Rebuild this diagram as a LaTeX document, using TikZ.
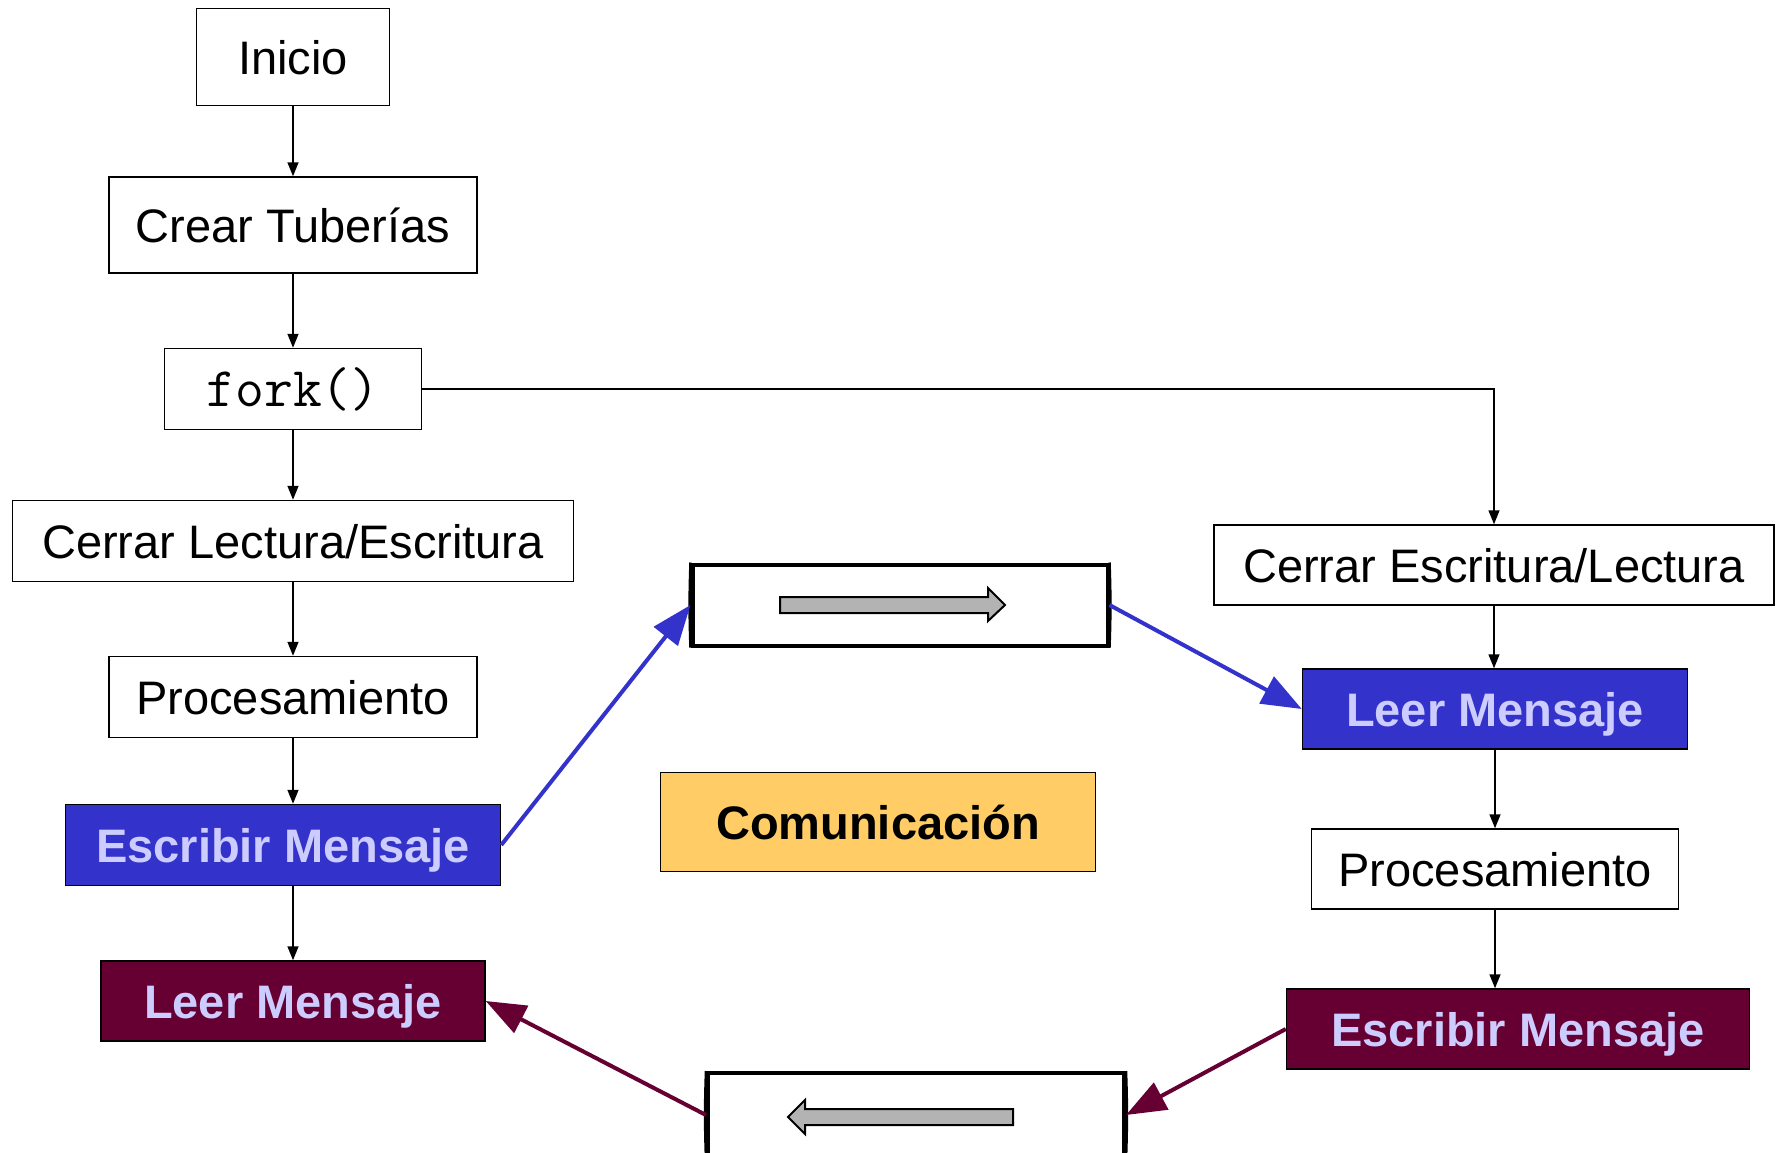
\documentclass[tikz,border=0pt]{standalone}
\usepackage{fontspec}
\setmainfont{Liberation Sans}
\usepackage{tikz}
\usetikzlibrary{arrows.meta}

\definecolor{pipeblue}{HTML}{3333CC}
\definecolor{pipered}{HTML}{660033}
\definecolor{lilac}{HTML}{CCCCFF}
\definecolor{commyellow}{HTML}{FFCC66}
\definecolor{arrowgray}{HTML}{B3B3B3}

\begin{document}
\begin{tikzpicture}[x=1pt, y=-1pt,
    every node/.style={inner sep=0pt, text height=34pt, text depth=0pt,
                       font=\fontsize{47}{56}\selectfont},
    stepbox/.style={draw, fill=white, line width=1.5pt},
    bluebox/.style={draw, fill=pipeblue, line width=1.5pt,
                    text=lilac, font=\fontsize{47}{56}\selectfont\bfseries},
    redbox/.style={draw, fill=pipered, line width=1.5pt,
                   text=lilac, font=\fontsize{47}{56}\selectfont\bfseries},
    pipebox/.style={draw, line width=4pt},
    flow/.style={-{Triangle[length=14pt,width=11pt]}, line width=1.5pt},
    bluemsg/.style={-{Triangle[length=40pt,width=30pt]}, line width=4pt, pipeblue},
    redmsg/.style={-{Triangle[length=40pt,width=30pt]}, line width=4pt, pipered}]

  \useasboundingbox (0,0) rectangle (1781,1152);

  % padre
  \node [stepbox, minimum width=193, minimum height=97] (inicio)    at ( 293,   57) {Inicio};
  \node [stepbox, minimum width=368, minimum height=96] (crear)     at ( 293,  225) {Crear Tuberías};
  \node [stepbox, minimum width=257, minimum height=81] (fork)      at ( 293,  389) {\ttfamily\fontsize{56}{60}\selectfont fork()};
  \node [stepbox, minimum width=561, minimum height=81] (cerrarLE)  at ( 293,  541) {Cerrar Lectura/Escritura};
  \node [stepbox, minimum width=368, minimum height=81] (procA)     at ( 293,  697) {Procesamiento};
  \node [bluebox, minimum width=435, minimum height=81] (escribirA) at ( 283,  845) {Escribir Mensaje};
  \node [redbox,  minimum width=384, minimum height=80] (leerA)     at ( 293, 1001) {Leer Mensaje};

  % hijo
  \node [stepbox, minimum width=560, minimum height=80] (cerrarEL)  at (1494,  565) {Cerrar Escritura/Lectura};
  \node [bluebox, minimum width=385, minimum height=80] (leerB)     at (1495,  709) {Leer Mensaje};
  \node [stepbox, minimum width=367, minimum height=80] (procB)     at (1495,  869) {Procesamiento};
  \node [redbox,  minimum width=463, minimum height=80] (escribirB) at (1518, 1029) {Escribir Mensaje};

  % tuberias
  \node [pipebox, minimum width=415, minimum height=81] (pipeA) at ( 900,  605) {};
  \node [pipebox, minimum width=416, minimum height=84] (pipeB) at ( 916, 1115) {};
  \draw [line width=2.5pt] (pipeA.north west) to [bend right=2] (pipeA.south west);
  \draw [line width=2.5pt] (pipeA.north east) to [bend left=2]  (pipeA.south east);
  \draw [line width=2.5pt] (pipeB.north west) to [bend right=2] (pipeB.south west);
  \draw [line width=2.5pt] (pipeB.north east) to [bend left=2]  (pipeB.south east);
  \node [draw, fill=commyellow, line width=1.5pt, minimum width=435, minimum height=99,
         font=\fontsize{47}{56}\selectfont\bfseries] (comm) at (878, 822) {Comunicación};

  \draw [fill=arrowgray, line width=2pt]
           ( 780, 597) -- ( 988, 597) -- ( 988, 588) -- (1005, 605)
        -- ( 988, 621) -- ( 988, 613) -- ( 780, 613) -- cycle;
  \draw [fill=arrowgray, line width=2pt]
           (1013, 1109) -- ( 805, 1109) -- ( 805, 1100) -- ( 788, 1117)
        -- ( 805, 1134) -- ( 805, 1125) -- (1013, 1125) -- cycle;

  % flujo
  \draw [flow] (inicio) -- (crear);
  \draw [flow] (crear) -- (fork);
  \draw [flow] (fork) -- (cerrarLE);
  \draw [flow] (cerrarLE) -- (procA);
  \draw [flow] (procA) -- (procA |- escribirA.north);
  \draw [flow] (escribirA.south -| leerA) -- (leerA);
  \draw [flow] (fork.east) -| (cerrarEL);
  \draw [flow] (cerrarEL) -- (cerrarEL |- leerB.north);
  \draw [flow] (leerB) -- (procB);
  \draw [flow] (procB) -- (procB |- escribirB.north);

  % mensajes
  \draw [bluemsg] (escribirA.east) -- (pipeA.west);
  \draw [bluemsg] (pipeA.east) -- (leerB.west);
  \draw [redmsg] (escribirB.west) -- (pipeB.east);
  \draw [redmsg] (pipeB.west) -- (leerA.east);

\end{tikzpicture}
\end{document}
